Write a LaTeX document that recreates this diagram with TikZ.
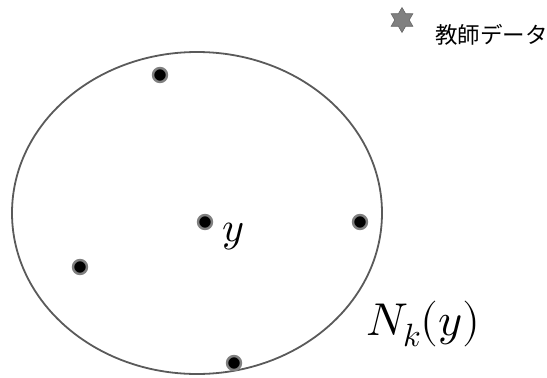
\documentclass[tikz,border=0pt]{standalone}
\usepackage{fontspec}
\usepackage{unicode-math}
\newfontfamily\jpfont{Noto Sans CJK JP}
\usepackage{tikz}
\usetikzlibrary{shapes.geometric, positioning}
\definecolor{rim}{RGB}{90,90,90}

\begin{document}
\begin{tikzpicture}[
    x=1pt, y=-1pt,
    pt/.style={circle, draw=gray, line width=2.4pt, fill=black, inner sep=0pt, minimum size=14pt},
    nb/.style={draw=rim, line width=1.8pt},
    lbl/.style={inner sep=0pt, anchor=base west},
    teacher/.style={star, star points=6, star point ratio=1.73, fill=gray, draw=gray!80!black, line width=0.6pt, inner sep=0pt, minimum size=25pt}
  ]
  \useasboundingbox (0,0) rectangle (547,378);
  % neighbourhood of y
  \node[nb, ellipse, minimum width=370pt, minimum height=322pt] (nbhd) at (197,213) {};
  \node[pt] (p1) at (160,75) {};
  \node[pt] (p0) at (205,222) {};
  \node[pt] (p2) at (360,222) {};
  \node[pt] (p3) at (80,267) {};
  \node[pt] (p4) at (234,363) {};
  \node[lbl, font=\fontsize{42}{42}\selectfont] (y) at (222,241) {$y$};
  \node[lbl, font=\fontsize{46}{46}\selectfont] (nk) at (366,335) {$N_k(y)$};
  % legend
  \node[teacher] (tstar) at (402,20) {};
  \node[inner sep=0pt, anchor=west, font=\jpfont\fontsize{22.5}{22.5}\selectfont] (tlabel) at (435,35) {教師データ};
\end{tikzpicture}
\end{document}
